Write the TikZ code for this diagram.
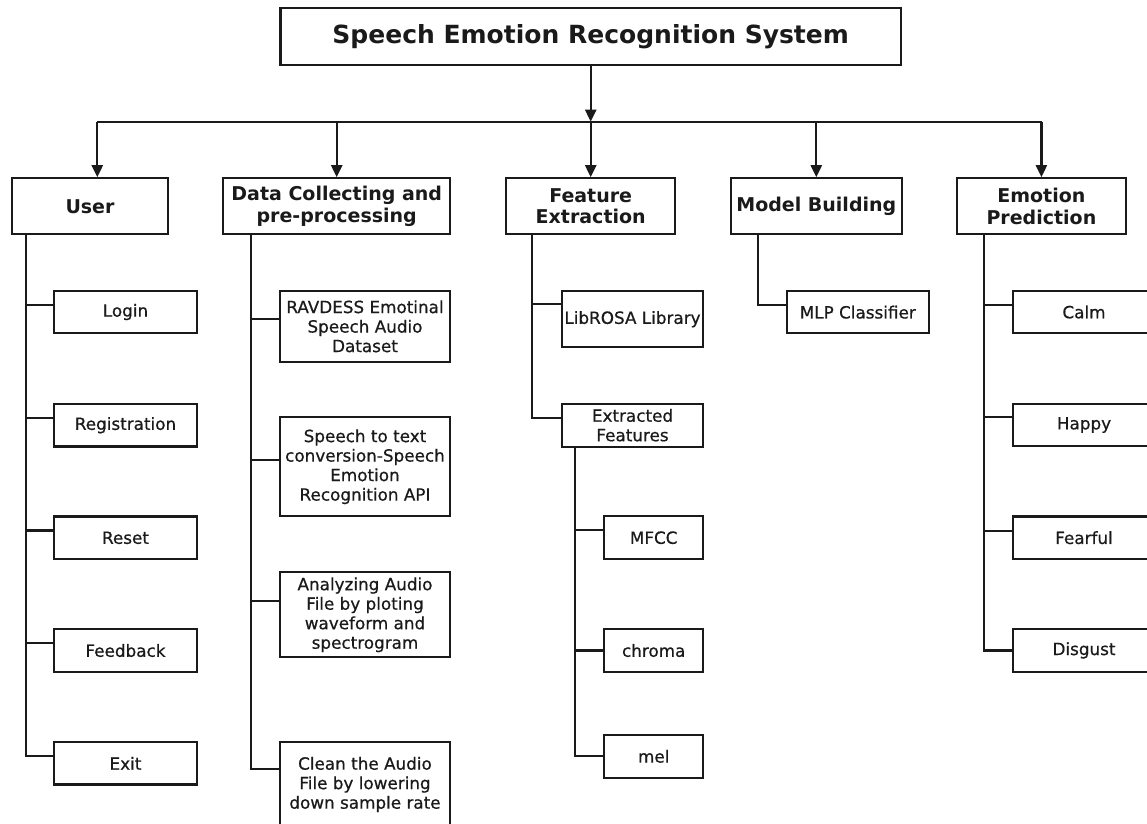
\documentclass[tikz,border=0pt]{standalone}
\usepackage{fontspec}
\setmainfont{DejaVu Sans}
\newfontfamily\chfont[FakeBold=0.6]{DejaVu Sans}
\usetikzlibrary{arrows.meta}
\definecolor{ink}{HTML}{1A1A1A}
\tikzset{
  box/.style={draw=ink, text=ink, line width=2.2pt, inner sep=0pt, align=center,
    font=\chfont\fontsize{16.8}{19.5}\selectfont},
  hbox/.style={box, minimum height=56pt, font=\bfseries\fontsize{19}{21.7}\selectfont},
  tbox/.style={box, font=\bfseries\fontsize{25}{30}\selectfont},
  ubox/.style={box, minimum width=142.4pt, minimum height=42.5pt},
  dbox/.style={box, minimum width=170pt},
  fbox/.style={box, minimum width=141.6pt},
  sbox/.style={box, minimum width=99.3pt, minimum height=43pt},
  ebox/.style={box, minimum width=142pt, minimum height=42.5pt},
  link/.style={draw=ink, line width=2.2pt},
  arr/.style={link, -{Triangle[length=12pt,width=11pt]}},
}
\begin{document}
\begin{tikzpicture}[x=1pt,y=-1pt]
\useasboundingbox[fill=white] (0,0) rectangle (1147,823);
\clip (0,0) rectangle (1147,823);

% title
\node[tbox, minimum width=620.6pt, minimum height=56.7pt] (title) at (590.7,36.7) {Speech Emotion Recognition System};

% top level
\node[hbox, minimum width=155.4pt] (user)  at (90,206.3)    {User};
\node[hbox, minimum width=226.7pt] (data)  at (336.7,206.3) {Data Collecting and\\pre-processing};
\node[hbox, minimum width=169.3pt] (feat)  at (590.7,206.3) {Feature\\Extraction};
\node[hbox, minimum width=170.7pt] (model) at (816.3,206.3) {Model Building};
\node[hbox, minimum width=169.3pt] (emo)   at (1041.4,206.3) {Emotion\\Prediction};

% bus
\coordinate (busL) at (97.3,121.7);
\coordinate (busR) at (1041.7,121.7);
\draw[link] (busL) -- (busR);
\draw[arr] (title.south) -- (title.south |- busL);
\draw[arr] (busL) -- (busL |- user.north);
\draw[arr] (data.north |- busL) -- (data.north);
\draw[arr] (feat.north |- busL) -- (feat.north);
\draw[arr] (model.north |- busL) -- (model.north);
\draw[arr] (emo.north |- busL) -- (emo.north);

% user children
\node[ubox] (login) at (125.5,312)   {Login};
\node[ubox] (reg)   at (125.5,425.2) {Registration};
\node[ubox] (reset) at (125.5,537.8) {Reset};
\node[ubox] (fback) at (125.5,650.5) {Feedback};
\node[ubox] (exit)  at (125.5,763.3) {Exit};
\foreach \c in {login,reg,reset,fback,exit}
  \draw[link] ([xshift=14.4pt]user.south west) |- ([yshift=7.3pt]\c.west);

% data children
\node[dbox, minimum height=70.7pt] (rav)   at (365,326.3) {RAVDESS Emotinal\\Speech Audio\\Dataset};
\node[dbox, minimum height=98.7pt] (s2t)   at (365,466.7) {Speech to text\\conversion-Speech\\Emotion\\Recognition API};
\node[dbox, minimum height=85pt]   (anal)  at (365,614.8) {Analyzing Audio\\File by ploting\\waveform and\\spectrogram};
\node[dbox, minimum height=85.6pt] (clean) at (365,784.5) {Clean the Audio\\File by lowering\\down sample rate};
\draw[link] ([xshift=29pt]data.south west) |- ([yshift=7pt]rav.west);
\draw[link] ([xshift=29pt]data.south west) |- ([yshift=6.7pt]s2t.west);
\draw[link] ([xshift=29pt]data.south west) |- ([yshift=14pt]anal.west);
\draw[link] ([xshift=29pt]data.south west) |- ([yshift=15.2pt]clean.west);

% feature children
\node[fbox, minimum height=56.3pt] (lib) at (632.5,319.2) {LibROSA Library};
\node[fbox, minimum height=43pt]   (ext) at (632.5,425.2) {Extracted\\Features};
\draw[link] ([xshift=27.3pt]feat.south west) |- ([yshift=15.2pt]lib.west);
\draw[link] ([xshift=27.3pt]feat.south west) |- ([yshift=7.5pt]ext.west);

\node[sbox] (mfcc)   at (653.7,537.7) {MFCC};
\node[sbox] (chroma) at (653.7,650.5) {chroma};
\node[sbox] (mel)    at (653.7,756.3) {mel};
\draw[link] ([xshift=14.3pt]ext.south west) |- ([yshift=7.7pt]mfcc.west);
\draw[link] ([xshift=14.3pt]ext.south west) |- (chroma.west);
\draw[link] ([xshift=14.3pt]ext.south west) |- (mel.west);

% model child
\node[box, minimum width=142.3pt, minimum height=42.3pt] (mlp) at (857.8,312.2) {MLP Classifier};
\draw[link] ([xshift=28.3pt]model.south west) |- ([yshift=7.2pt]mlp.west);

% emotion children
\node[ebox] (calm)    at (1084,312)   {Calm};
\node[ebox] (happy)   at (1084,425)   {Happy};
\node[ebox] (fear)    at (1084,537.7) {Fearful};
\node[ebox] (disgust) at (1084,650.4) {Disgust};
\draw[link] ([xshift=28.3pt]emo.south west) |- ([yshift=7pt]calm.west);
\draw[link] ([xshift=28.3pt]emo.south west) |- ([yshift=8pt]happy.west);
\draw[link] ([xshift=28.3pt]emo.south west) |- ([yshift=7pt]fear.west);
\draw[link] ([xshift=28.3pt]emo.south west) |- (disgust.west);
\end{tikzpicture}
\end{document}
